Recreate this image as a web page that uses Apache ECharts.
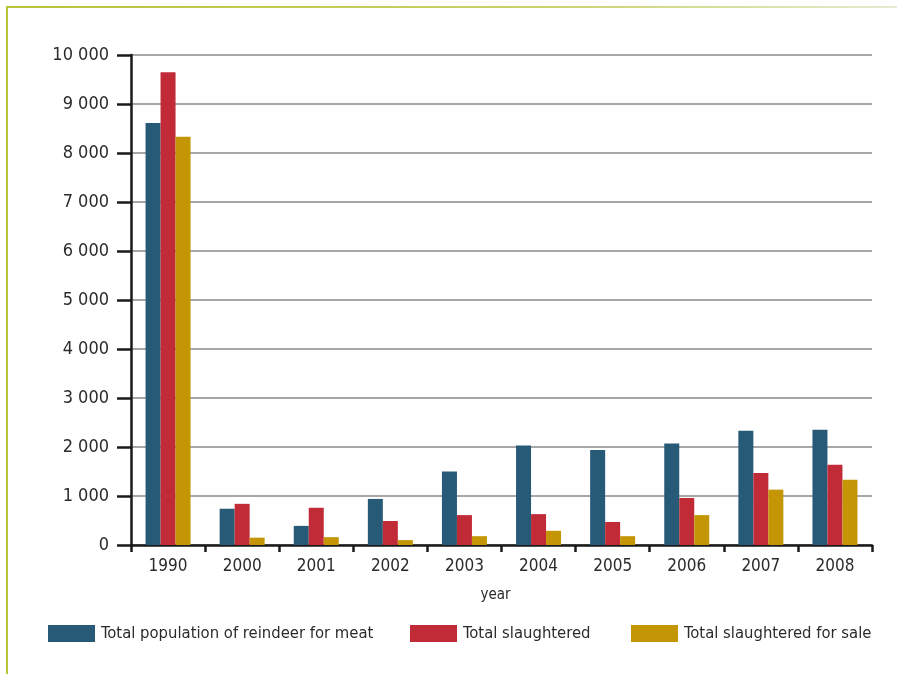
<!DOCTYPE html>
<html>
<head>
<meta charset="utf-8">
<script src="https://cdn.jsdelivr.net/npm/echarts@6/dist/echarts.min.js"></script>
<style>
  html, body { margin: 0; padding: 0; background: #fff; }
  #chart { width: 897px; height: 674px; }
</style>
</head>
<body>
<div id="chart"></div>
<script>
// Reindeer herd figures by year
const years = ['1990', '2000', '2001', '2002', '2003', '2004', '2005', '2006', '2007', '2008'];
const populationForMeat = [8610, 740, 390, 940, 1500, 2030, 1940, 2070, 2330, 2350];
const totalSlaughtered = [9650, 840, 760, 490, 610, 630, 470, 960, 1470, 1640];
const slaughteredForSale = [8330, 150, 160, 100, 180, 290, 180, 610, 1130, 1330];
const seriesNames = ['Total population of reindeer for meat', 'Total slaughtered', 'Total slaughtered for sale'];
const seriesColors = ['#275a77', '#c12a37', '#c49606'];
const legendLefts = [48, 410, 631];

const FONT = '"DejaVu Sans Condensed", "Liberation Sans Narrow", sans-serif';
const TEXT = '#2b2b2b';

const chart = echarts.init(document.getElementById('chart'));

function thousands(v) {
  return String(v).replace(/\B(?=(\d{3})+(?!\d))/g, ' ');
}

function barSeries(name, data, color) {
  return {
    name: name,
    type: 'bar',
    data: data,
    barWidth: 15,
    barGap: '0%',
    itemStyle: { color: color },
    emphasis: { disabled: true }
  };
}

// one legend block per series so each sits at its own spot on the row
const legends = seriesNames.map((name, i) => ({
  top: 625,
  left: legendLefts[i],
  padding: 0,
  itemWidth: 47,
  itemHeight: 17,
  itemGap: 0,
  icon: 'rect',
  textStyle: { fontFamily: FONT, fontSize: 16.5, color: TEXT, padding: [0, 0, 0, 1] },
  data: [name]
}));

chart.setOption({
  animation: false,
  textStyle: { fontFamily: FONT },
  grid: { left: 131, right: 25, top: 55, bottom: 129 },
  legend: legends,
  xAxis: {
    type: 'category',
    data: years,
    name: 'year',
    nameLocation: 'middle',
    nameGap: 43,
    nameTextStyle: { fontFamily: FONT, fontSize: 15, color: TEXT, padding: [0, 12, 0, 0] },
    axisLine: { lineStyle: { color: '#1a1a1a', width: 2.5 } },
    axisTick: { show: true, length: 7, lineStyle: { color: '#1a1a1a', width: 2.5 } },
    axisLabel: { fontFamily: FONT, fontSize: 17, color: TEXT, margin: 13 },
    splitLine: { show: false }
  },
  yAxis: {
    type: 'value',
    min: 0,
    max: 10000,
    interval: 1000,
    axisLine: { show: true, lineStyle: { color: '#1a1a1a', width: 2.5 } },
    axisTick: { show: true, length: 14, lineStyle: { color: '#1a1a1a', width: 2.5 } },
    axisLabel: { fontFamily: FONT, fontSize: 18, color: TEXT, margin: 22, formatter: thousands },
    splitLine: { lineStyle: { color: '#8a8a8a', width: 1.5 } }
  },
  series: [
    barSeries(seriesNames[0], populationForMeat, seriesColors[0]),
    barSeries(seriesNames[1], totalSlaughtered, seriesColors[1]),
    barSeries(seriesNames[2], slaughteredForSale, seriesColors[2])
  ],
  graphic: [
    {
      type: 'rect',
      shape: { x: 6, y: 6, width: 891, height: 2 },
      style: {
        fill: new echarts.graphic.LinearGradient(0, 0, 1, 0, [
          { offset: 0, color: '#b8c43a' },
          { offset: 0.6, color: '#c9d26a' },
          { offset: 1, color: '#e6ead0' }
        ])
      }
    },
    {
      type: 'rect',
      shape: { x: 6, y: 6, width: 2, height: 668 },
      style: { fill: '#b8c43a' }
    }
  ]
});
</script>
</body>
</html>
